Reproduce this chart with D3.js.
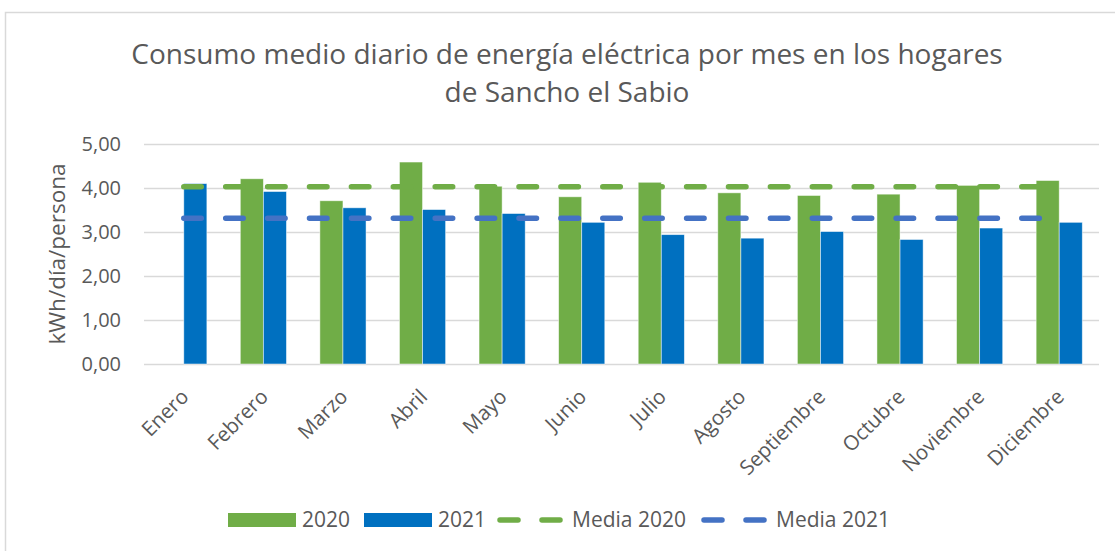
<!DOCTYPE html>
<html>
<head>
<meta charset="utf-8">
<style>
  body { margin: 0; background: #fff; }
  svg { display: block; font-family: "Open Sans", sans-serif; }
</style>
</head>
<body>
<svg></svg>
<script src="https://d3js.org/d3.v7.min.js"></script>
<script>
// chart values
const months = ["Enero", "Febrero", "Marzo", "Abril", "Mayo", "Junio", "Julio",
                "Agosto", "Septiembre", "Octubre", "Noviembre", "Diciembre"];
const values2020 = [null, 4.21, 3.71, 4.59, 4.04, 3.80, 4.13, 3.89, 3.83, 3.86, 4.06, 4.17];
const values2021 = [4.10, 3.92, 3.55, 3.51, 3.42, 3.22, 2.94, 2.86, 3.01, 2.83, 3.09, 3.22];
const media2020 = [4.03, 4.03, 4.03, 4.03, 4.03, 4.03, 4.03, 4.03, 4.03, 4.03, 4.03, 4.03];
const media2021 = [3.31, 3.31, 3.31, 3.31, 3.31, 3.31, 3.31, 3.31, 3.31, 3.31, 3.31, 3.31];
const yTicks = [0, 1, 2, 3, 4, 5];

const width = 1115, height = 551;
const green = "#70ad47", blue = "#0070c0", lineBlue = "#4472c4";
const textColor = "#595959", gridColor = "#d9d9d9";

const svg = d3.select("svg").attr("width", width).attr("height", height);

// chart area border (runs off the right and bottom edges)
svg.append("rect")
    .attr("x", 5.5).attr("y", 12.5)
    .attr("width", width + 20).attr("height", height + 20)
    .attr("fill", "#fff").attr("stroke", gridColor).attr("stroke-width", 1.5);

// title
const title = svg.append("text")
    .attr("text-anchor", "middle")
    .attr("fill", textColor)
    .attr("font-size", 28);
title.append("tspan").attr("x", 567).attr("y", 64)
    .text("Consumo medio diario de energía eléctrica por mes en los hogares");
title.append("tspan").attr("x", 567).attr("y", 102)
    .text("de Sancho el Sabio");

// plot area
const plot = {left: 144, right: 1099, top: 144, bottom: 364};

const x0 = d3.scaleBand()
    .domain(months)
    .range([plot.left, plot.right])
    .paddingInner(0.42)
    .paddingOuter(0.21);

const keys = ["2020", "2021"];
const x1 = d3.scaleBand().domain(keys).range([0, x0.bandwidth()]);

const y = d3.scaleLinear().domain([0, 5]).range([plot.bottom, plot.top]);

const locale = d3.formatLocale({decimal: ",", thousands: ".", grouping: [3], currency: ["", "€"]});
const fmt = locale.format(".2f");

// gridlines + y labels
const yAxis = svg.append("g")
    .attr("transform", "translate(" + plot.left + ",0)")
    .call(d3.axisLeft(y).tickValues(yTicks).tickFormat(fmt)
        .tickSize(-(plot.right - plot.left)).tickPadding(23));
yAxis.select(".domain").remove();
yAxis.selectAll(".tick line").attr("stroke", gridColor).attr("stroke-width", 1.5);
yAxis.selectAll(".tick text")
    .attr("fill", textColor).attr("font-size", 20)
    .attr("font-family", "Open Sans, sans-serif");

// y axis title
svg.append("text")
    .attr("transform", "translate(65," + (plot.top + plot.bottom) / 2 + ") rotate(-90)")
    .attr("text-anchor", "middle")
    .attr("fill", textColor)
    .attr("font-size", 22.5)
    .text("kWh/día/persona");

// bars
const rows = months.map(function(m, i) {
    return {month: m, "2020": values2020[i], "2021": values2021[i]};
});

svg.append("g")
    .selectAll("g")
    .data(rows)
    .join("g")
    .attr("transform", function(d) { return "translate(" + x0(d.month) + ",0)"; })
    .selectAll("rect")
    .data(function(d) {
        return keys.filter(function(k) { return d[k] != null; })
            .map(function(k) { return {key: k, value: d[k]}; });
    })
    .join("rect")
    .attr("x", function(d) { return x1(d.key); })
    .attr("y", function(d) { return y(d.value); })
    .attr("width", x1.bandwidth())
    .attr("height", function(d) { return y(0) - y(d.value); })
    .attr("fill", function(d) { return d.key === "2020" ? green : blue; })
    .attr("stroke", "#ffffff")
    .attr("stroke-opacity", 0.6)
    .attr("stroke-width", 0.8);

// mean lines
const line = d3.line()
    .x(function(d, i) { return x0(months[i]) + x0.bandwidth() / 2; })
    .y(function(d) { return y(d); });

[[media2020, green], [media2021, lineBlue]].forEach(function(s) {
    svg.append("path")
        .datum(s[0])
        .attr("d", line)
        .attr("fill", "none")
        .attr("stroke", s[1])
        .attr("stroke-width", 5.5)
        .attr("stroke-linecap", "round")
        .attr("stroke-dasharray", "17.5 24.4");
});

// x labels
svg.append("g")
    .selectAll("text")
    .data(months)
    .join("text")
    .attr("transform", function(d) {
        return "translate(" + (x0(d) + x0.bandwidth() / 2 + 1) + "," + (plot.bottom + 29) + ") rotate(-45)";
    })
    .attr("text-anchor", "end")
    .attr("dy", "0.35em")
    .attr("fill", textColor)
    .attr("font-size", 20.5)
    .text(function(d) { return d; });

// legend
const legend = [
    {label: "2020", type: "bar", color: green, x: 228},
    {label: "2021", type: "bar", color: blue, x: 364},
    {label: "Media 2020", type: "line", color: green, x: 497},
    {label: "Media 2021", type: "line", color: lineBlue, x: 701}
];
const lg = svg.append("g").selectAll("g").data(legend).join("g")
    .attr("transform", function(d) { return "translate(" + d.x + ",520)"; });

lg.filter(function(d) { return d.type === "bar"; })
    .append("rect")
    .attr("x", 0).attr("y", -7).attr("width", 68).attr("height", 14)
    .attr("fill", function(d) { return d.color; });

lg.filter(function(d) { return d.type === "line"; })
    .append("line")
    .attr("x1", 3).attr("x2", 66).attr("y1", 0).attr("y2", 0)
    .attr("stroke", function(d) { return d.color; })
    .attr("stroke-width", 5.5)
    .attr("stroke-linecap", "round")
    .attr("stroke-dasharray", "18 24");

lg.append("text")
    .attr("x", function(d) { return d.type === "bar" ? 74 : 75; })
    .attr("dy", "0.35em")
    .attr("fill", textColor)
    .attr("font-size", 21)
    .text(function(d) { return d.label; });
</script>
</body>
</html>
